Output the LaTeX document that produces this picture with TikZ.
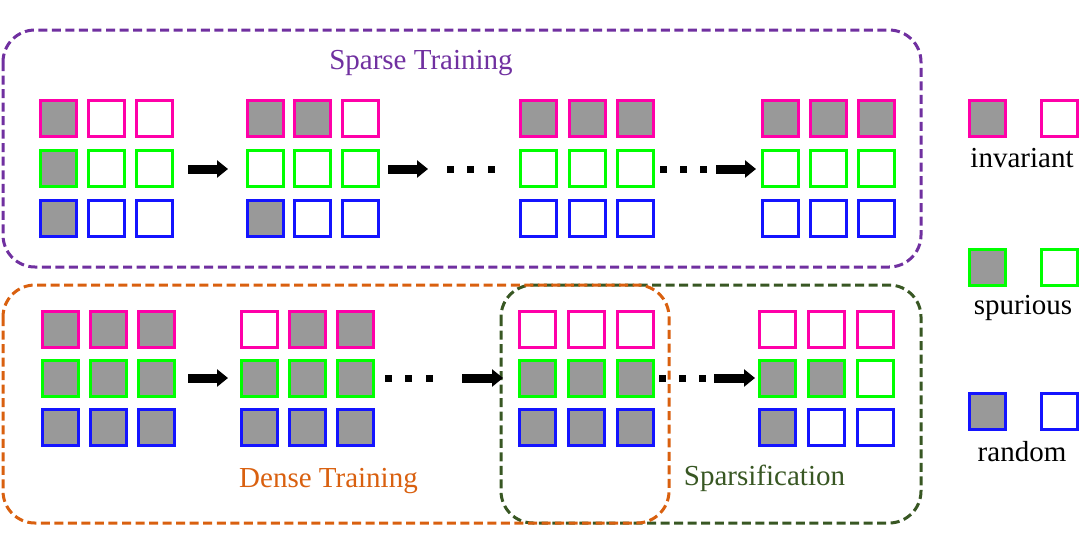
\documentclass[tikz,border=0pt]{standalone}
\usepackage{fontspec}
\setmainfont{Liberation Serif}
\usetikzlibrary{arrows.meta}
\definecolor{pinkc}{HTML}{FF00A8}
\definecolor{greenc}{HTML}{00FF00}
\definecolor{bluec}{HTML}{1414FF}
\definecolor{cellgray}{HTML}{999999}
\definecolor{purplec}{HTML}{7030A0}
\definecolor{orangec}{HTML}{D9600F}
\definecolor{darkgreenc}{HTML}{385723}
\begin{document}
\begin{tikzpicture}[x=0.75pt,y=-0.75pt,
  cell/.style={draw, line width=2.25pt, minimum size=27pt, inner sep=0pt, outer sep=0pt},
  f0/.style={fill=white},
  f1/.style={fill=cellgray},
  rc0/.style={draw=pinkc},
  rc1/.style={draw=greenc},
  rc2/.style={draw=bluec},
  region/.style={line width=2.25pt, dash pattern=on 6.75pt off 3.4pt, rounded corners=24pt},
  lbl/.style={font=\fontsize{21.75}{26}\selectfont, anchor=base, inner sep=0pt},
  dotsq/.style={fill=black, minimum size=5.25pt, inner sep=0pt, outer sep=0pt},
  fatarrow/.style={line width=6.75pt, -{Triangle[length=8.25pt, width=12.75pt]}},
]
\useasboundingbox (0,0) rectangle (1080,558);

% regions
\draw[region, draw=purplec] (3,30) rectangle (921,267);
\draw[region, draw=darkgreenc] (501,285) rectangle (921,523);
\draw[region, draw=orangec] (3,285) rectangle (669,523);

% cell groups: name / x of first column / column pitch / y of first row / row pitch / fills
\foreach \g/\xa/\cp/\yt/\rp/\pat in {
  ta/38.5/48/99/50/{1,0,0,1,0,0,1,0,0},
  tb/245.5/47.8/99/50/{1,1,0,0,0,0,1,0,0},
  tc/519/48.5/99/50/{1,1,1,0,0,0,0,0,0},
  td/761/48/99/50/{1,1,1,0,0,0,0,0,0},
  ba/41/48/310/49/{1,1,1,1,1,1,1,1,1},
  bb/240/48/310/49/{0,1,1,1,1,1,1,1,1},
  bc/518/49/310/49/{0,0,0,1,1,1,1,1,1},
  bd/758/49/310/49/{0,0,0,1,1,0,1,0,0}}{
  \foreach \v [count=\i from 0] in \pat {
    \pgfmathtruncatemacro\r{int(\i/3)}
    \pgfmathtruncatemacro\c{mod(\i,3)}
    \pgfmathsetmacro\px{\xa+\c*\cp+19.5}
    \pgfmathsetmacro\py{\yt+\r*\rp+19.5}
    \node[cell, rc\r, f\v] (\g-\i) at (\px,\py) {};
  }
}

% arrows and dots, top row
\coordinate (ta1s) at (188,169); \coordinate (ta1e) at (228,169);
\draw[fatarrow] (ta1s) -- (ta1e);
\coordinate (ta2s) at (388,169); \coordinate (ta2e) at (428,169);
\draw[fatarrow] (ta2s) -- (ta2e);
\node[dotsq] (td1) at (450,169) {};
\node[dotsq] (td2) at (470.5,169) {};
\node[dotsq] (td3) at (491,169) {};
\node[dotsq] (td4) at (663,169) {};
\node[dotsq] (td5) at (683,169) {};
\node[dotsq] (td6) at (703,169) {};
\coordinate (ta3s) at (716,169); \coordinate (ta3e) at (756,169);
\draw[fatarrow] (ta3s) -- (ta3e);

% arrows and dots, bottom row
\coordinate (ba1s) at (188,378); \coordinate (ba1e) at (228,378);
\draw[fatarrow] (ba1s) -- (ba1e);
\node[dotsq] (bd1) at (388,378) {};
\node[dotsq] (bd2) at (408.5,378) {};
\node[dotsq] (bd3) at (429,378) {};
\coordinate (ba2s) at (462,378); \coordinate (ba2e) at (503,378);
\draw[fatarrow] (ba2s) -- (ba2e);
\node[dotsq] (bd4) at (662,378) {};
\node[dotsq] (bd5) at (682,378) {};
\node[dotsq] (bd6) at (702,378) {};
\coordinate (ba3s) at (714,378); \coordinate (ba3e) at (755,378);
\draw[fatarrow] (ba3s) -- (ba3e);

% legend
\node[cell, rc0, f1] (lp1) at (987.5,118.5) {};
\node[cell, rc0, f0] (lp0) at (1059.5,118.5) {};
\node[cell, rc1, f1] (lg1) at (987.5,267.5) {};
\node[cell, rc1, f0] (lg0) at (1059.5,267.5) {};
\node[cell, rc2, f1] (lb1) at (987.5,411.5) {};
\node[cell, rc2, f0] (lb0) at (1059.5,411.5) {};
\node[lbl] (inv) at (1022,167) {invariant};
\node[lbl] (spu) at (1023,314) {spurious};
\node[lbl] (rnd) at (1022,461) {random};

% region labels
\node[lbl, text=purplec] (stl) at (421,69) {Sparse Training};
\node[lbl, text=orangec] (dtl) at (328.5,487) {Dense Training};
\node[lbl, text=darkgreenc] (spl) at (764.5,485) {Sparsification};
\end{tikzpicture}
\end{document}
